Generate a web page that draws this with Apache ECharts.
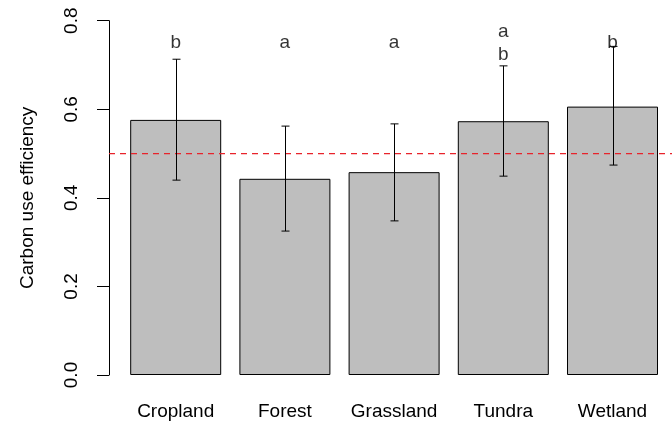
<!DOCTYPE html>
<html>
<head>
<meta charset="utf-8">
<script src="https://cdn.jsdelivr.net/npm/echarts@6/dist/echarts.min.js"></script>
<style>html,body{margin:0;padding:0;background:#fff}#c{width:672px;height:430px}</style>
</head>
<body>
<div id="c"></div>
<script>
const categories = ['Cropland', 'Forest', 'Grassland', 'Tundra', 'Wetland'];
const meanValues = [0.576, 0.443, 0.458, 0.573, 0.606];
const upperValues = [0.713, 0.562, 0.567, 0.698, 0.742];
const lowerValues = [0.440, 0.325, 0.348, 0.449, 0.474];
const letters = ['b', 'a', 'a', 'a\nb', 'b'];
const letterLevel = [0.75, 0.75, 0.75, 0.75, 0.75];
const referenceValue = 0.5;
const yTicks = ['0.0', '0.2', '0.4', '0.6', '0.8'];

const FONT = 'Liberation Sans, Arial, sans-serif';
const chart = echarts.init(document.getElementById('c'), null, {renderer: 'canvas'});
const gridTop = 20.7, gridBottom = 55;

chart.setOption({
  animation: false,
  backgroundColor: '#fff',
  grid: [
    {left: 109, right: 0, top: gridTop, bottom: gridBottom},
    {left: 121.1, width: 546, top: gridTop, bottom: gridBottom}
  ],
  xAxis: [
    {gridIndex: 0, type: 'value', min: 0, max: 1, show: false},
    {gridIndex: 1, type: 'category', data: categories,
     axisLine: {show: false}, axisTick: {show: false},
     axisLabel: {interval: 0, color: '#000', fontFamily: FONT, fontSize: 19, margin: 27}}
  ],
  yAxis: [
    {gridIndex: 0, type: 'value', min: 0, max: 0.8, interval: 0.2,
     name: 'Carbon use efficiency', nameLocation: 'middle', nameGap: 72,
     nameTextStyle: {color: '#000', fontFamily: FONT, fontSize: 19},
     axisLine: {show: true, lineStyle: {color: '#000', width: 1}},
     axisTick: {show: true, length: 12, lineStyle: {color: '#000'}},
     splitLine: {show: false},
     axisLabel: {rotate: 90, margin: 28, color: '#000', fontFamily: FONT, fontSize: 19,
       formatter: (v) => yTicks[Math.round(v / 0.2)]}},
    {gridIndex: 1, type: 'value', min: 0, max: 0.8, show: false}
  ],
  series: [
    {type: 'line', xAxisIndex: 0, yAxisIndex: 0, symbol: 'none', silent: true,
     data: [[0, referenceValue], [1, referenceValue]],
     itemStyle: {color: '#e8232b'},
     lineStyle: {color: '#e8232b', width: 1.2, type: [6, 5], opacity: 1}, z: 5},
    {type: 'bar', xAxisIndex: 1, yAxisIndex: 1, data: meanValues, barWidth: 91,
     itemStyle: {color: '#bebebe', borderColor: '#000', borderWidth: 1}, z: 2},
    {type: 'custom', xAxisIndex: 1, yAxisIndex: 1, z: 10,
     data: categories.map((c, i) => [i, lowerValues[i], upperValues[i]]),
     renderItem: function (params, api) {
       const lo = api.coord([api.value(0), api.value(1)]);
       const hi = api.coord([api.value(0), api.value(2)]);
       const x = Math.round(lo[0]) + 0.5;
       const cap = 4;
       const st = {stroke: '#000', lineWidth: 1};
       return {type: 'group', children: [
         {type: 'line', shape: {x1: x, y1: lo[1], x2: x, y2: hi[1]}, style: st},
         {type: 'line', shape: {x1: x - cap, y1: lo[1], x2: x + cap, y2: lo[1]}, style: st},
         {type: 'line', shape: {x1: x - cap, y1: hi[1], x2: x + cap, y2: hi[1]}, style: st}
       ]};
     }},
    {type: 'scatter', xAxisIndex: 1, yAxisIndex: 1, symbolSize: 0, z: 11,
     data: categories.map((c, i) => ({value: [i, letterLevel[i]], name: letters[i]})),
     label: {show: true, position: 'inside', formatter: (p) => p.name,
       color: '#000', fontFamily: FONT, fontSize: 19, lineHeight: 23}}
  ]
});
</script>
</body>
</html>
